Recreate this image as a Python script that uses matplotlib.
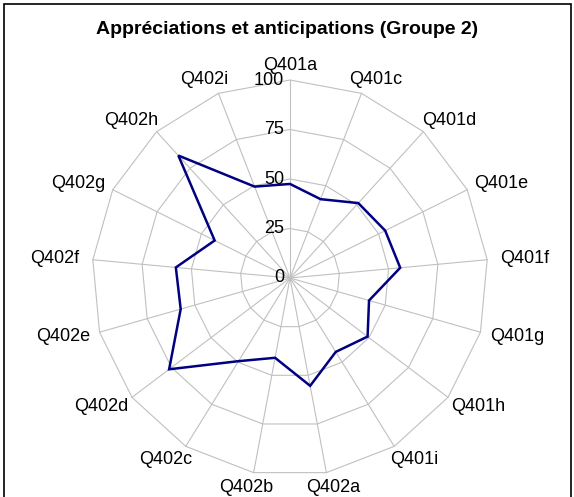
import numpy as np
import matplotlib.pyplot as plt
from matplotlib.patches import Rectangle, Polygon

plt.rcParams['font.family'] = ['Liberation Sans', 'DejaVu Sans']

categories = ["Q401a", "Q401c", "Q401d", "Q401e", "Q401f", "Q401g", "Q401h", "Q401i",
              "Q402a", "Q402b", "Q402c", "Q402d", "Q402e", "Q402f", "Q402g", "Q402h", "Q402i"]
values = [47.5, 42.7, 51.2, 53.7, 55.9, 41.5, 49.1, 43.9,
          55.4, 41.0, 49.4, 76.5, 57.4, 57.9, 42.5, 83.7, 49.5]
rings = [25, 50, 75, 100]
ring_labels = [0, 25, 50, 75, 100]

n = len(categories)
theta = np.arange(n) * 2 * np.pi / n   # clockwise from top
sx, sy = np.sin(theta), np.cos(theta)

W, H = 574, 497
fig = plt.figure(figsize=(W / 100, H / 100), dpi=100)
ax = fig.add_axes([0, 0, 1, 1])
# 1.98 px per unit, centre at pixel (290, 278)
ppu = 1.98
ax.set_xlim(-290 / ppu, (W - 290) / ppu)
ax.set_ylim(-(H - 278) / ppu, 278 / ppu)
ax.axis("off")

grid_c = "#c0c0c0"
for r in rings:
    ax.add_patch(Polygon(np.column_stack([r * sx, r * sy]), closed=True,
                         fill=False, edgecolor=grid_c, lw=0.8, zorder=1))
for i in range(n):
    ax.plot([0, 100 * sx[i]], [0, 100 * sy[i]], color=grid_c, lw=0.8, zorder=1)

v = np.array(values)
ax.add_patch(Polygon(np.column_stack([v * sx, v * sy]), closed=True, fill=False,
                     edgecolor="#000080", lw=1.8, zorder=3))

# value scale along the top spoke
for t in ring_labels:
    ax.text(-6 / ppu, t, str(t), ha="right", va="center", fontsize=13, zorder=4)

# category labels on an ellipse outside the grid
rx, ry = 236 / ppu, 213 / ppu
for i, lab in enumerate(categories):
    ax.text(rx * sx[i], ry * sy[i], lab, ha="center", va="center", fontsize=13)

fig.text(287 / W, 1 - 30 / H, "Appréciations et anticipations (Groupe 2)",
         ha="center", va="center", fontsize=14, fontweight="bold")

fig.patches.append(Rectangle((3.5 / W, -0.02), 567.5 / W, 1.02 - 3.5 / H,
                             transform=fig.transFigure, fill=False,
                             edgecolor="black", lw=1.2))

fig.savefig("out.png", dpi=100)
